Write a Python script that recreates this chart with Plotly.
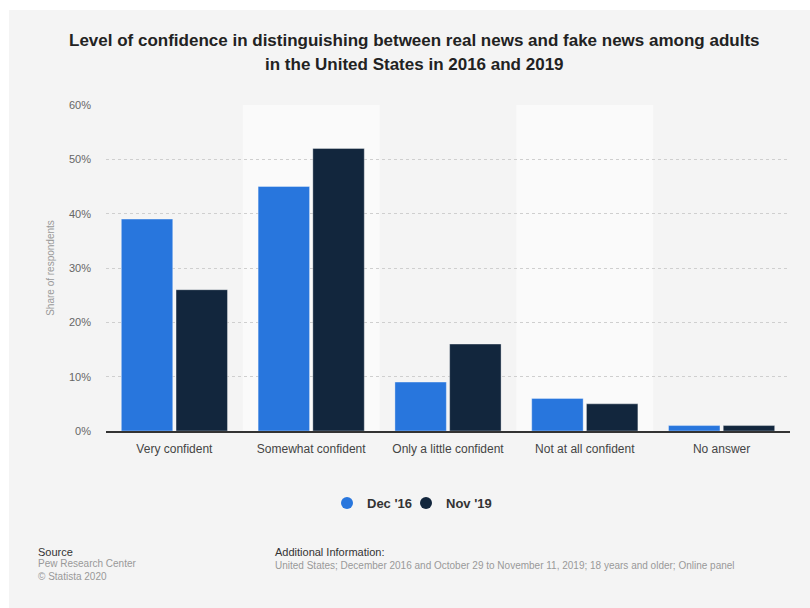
import plotly.graph_objects as go

# Survey answers and shares (%) for the two survey waves
categories = ["Very confident", "Somewhat confident", "Only a little confident",
              "Not at all confident", "No answer"]
dec_2016 = [39, 45, 9, 6, 1]
nov_2019 = [26, 52, 16, 5, 1]
series_names = ["Dec '16", "Nov '19"]
y_ticks = [0, 10, 20, 30, 40, 50, 60]
y_tick_labels = ["0%", "10%", "20%", "30%", "40%", "50%", "60%"]
title_lines = ["Level of confidence in distinguishing between real news and fake news among adults",
               "in the United States in 2016 and 2019"]

BLUE = "#2876dd"
NAVY = "#12263d"
FONT = "Liberation Sans, Arial, sans-serif"

W, H = 810, 608
L, R, T, B = 106, 20, 105, 177
PW, PH = W - L - R, H - T - B


def px_x(x):
    return (x - L) / PW


def px_y(y):
    return (H - B - y) / PH


fig = go.Figure()
# each series gets its own legend box so the two entries can sit close together
for name, vals, col, leg in [(series_names[0], dec_2016, BLUE, "legend"),
                             (series_names[1], nov_2019, NAVY, "legend2")]:
    fig.add_trace(go.Bar(
        x=categories, y=vals, name=name, showlegend=False,
        marker=dict(color=col, line=dict(color="rgba(255,255,255,0.35)", width=1)),
        hoverinfo="x+y",
    ))
    # circle symbols for the legend
    fig.add_trace(go.Scatter(
        x=[None], y=[None], mode="markers", name=name, legend=leg,
        marker=dict(color=col, size=13, symbol="circle"),
    ))

shapes = []
# lighter bands behind alternate categories
for i in (1, 3):
    shapes.append(dict(type="rect", xref="x", yref="paper", x0=i - 0.5, x1=i + 0.5,
                       y0=0, y1=1, fillcolor="#fafafa", line=dict(width=0),
                       layer="below"))
# white page margin on the left and top
shapes.append(dict(type="rect", xref="paper", yref="paper", x0=px_x(-5), x1=px_x(9),
                   y0=px_y(H + 5), y1=px_y(-5), fillcolor="white",
                   line=dict(width=0), layer="above"))
shapes.append(dict(type="rect", xref="paper", yref="paper", x0=px_x(-5), x1=px_x(W + 5),
                   y0=px_y(10), y1=px_y(-5), fillcolor="white",
                   line=dict(width=0), layer="above"))

annotations = []
for line, ypix in zip(title_lines, (40, 64)):
    annotations.append(dict(
        text=f"<b>{line}</b>", x=px_x(414), y=px_y(ypix), xref="paper", yref="paper",
        showarrow=False, xanchor="center", yanchor="middle",
        font=dict(size=17, color="#222222", family=FONT)))

annotations += [
    dict(text="Source", x=px_x(36), y=px_y(552), xref="paper", yref="paper",
         showarrow=False, xanchor="left", yanchor="middle",
         font=dict(size=11, color="#333333", family=FONT)),
    dict(text="Pew Research Center<br>© Statista 2020", x=px_x(36), y=px_y(570),
         xref="paper", yref="paper", showarrow=False, xanchor="left", yanchor="middle",
         align="left", font=dict(size=10, color="#999999", family=FONT)),
    dict(text="Additional Information:", x=px_x(273), y=px_y(552), xref="paper",
         yref="paper", showarrow=False, xanchor="left", yanchor="middle",
         font=dict(size=11, color="#333333", family=FONT)),
    dict(text="United States; December 2016 and October 29 to November 11, 2019; "
              "18 years and older; Online panel",
         x=px_x(273), y=px_y(565), xref="paper", yref="paper", showarrow=False,
         xanchor="left", yanchor="middle",
         font=dict(size=10, color="#999999", family=FONT)),
]

legend_style = dict(orientation="h", xanchor="left", y=px_y(503), yanchor="middle",
                    bgcolor="rgba(0,0,0,0)", itemwidth=30,
                    font=dict(size=13, color="#333333", family=FONT, weight="bold"),
                    itemsizing="constant")

fig.update_layout(
    width=W, height=H,
    margin=dict(l=L, r=R, t=T, b=B, pad=0),
    paper_bgcolor="#f4f4f4", plot_bgcolor="#f4f4f4",
    barmode="group", bargap=0.2, bargroupgap=0.06,
    shapes=shapes, annotations=annotations,
    font=dict(family=FONT),
    legend=dict(x=px_x(327), **legend_style),
    legend2=dict(x=px_x(406), **legend_style),
)
fig.update_xaxes(
    type="category", showgrid=False, ticks="", showline=True,
    linecolor="#333333", linewidth=1.5,
    tickfont=dict(size=12, color="#444444", family=FONT), ticklabelstandoff=6,
)
fig.update_yaxes(
    range=[0, 60], tickvals=y_ticks, ticktext=y_tick_labels,
    showgrid=True, gridcolor="#cfcfcf", griddash="dot", gridwidth=1,
    zeroline=False, showline=False, ticks="",
    tickfont=dict(size=11, color="#666666", family=FONT), ticklabelstandoff=14,
    title=dict(text="Share of respondents", standoff=12,
               font=dict(size=10, color="#999999", family=FONT)),
)

fig.write_html("out.html")
